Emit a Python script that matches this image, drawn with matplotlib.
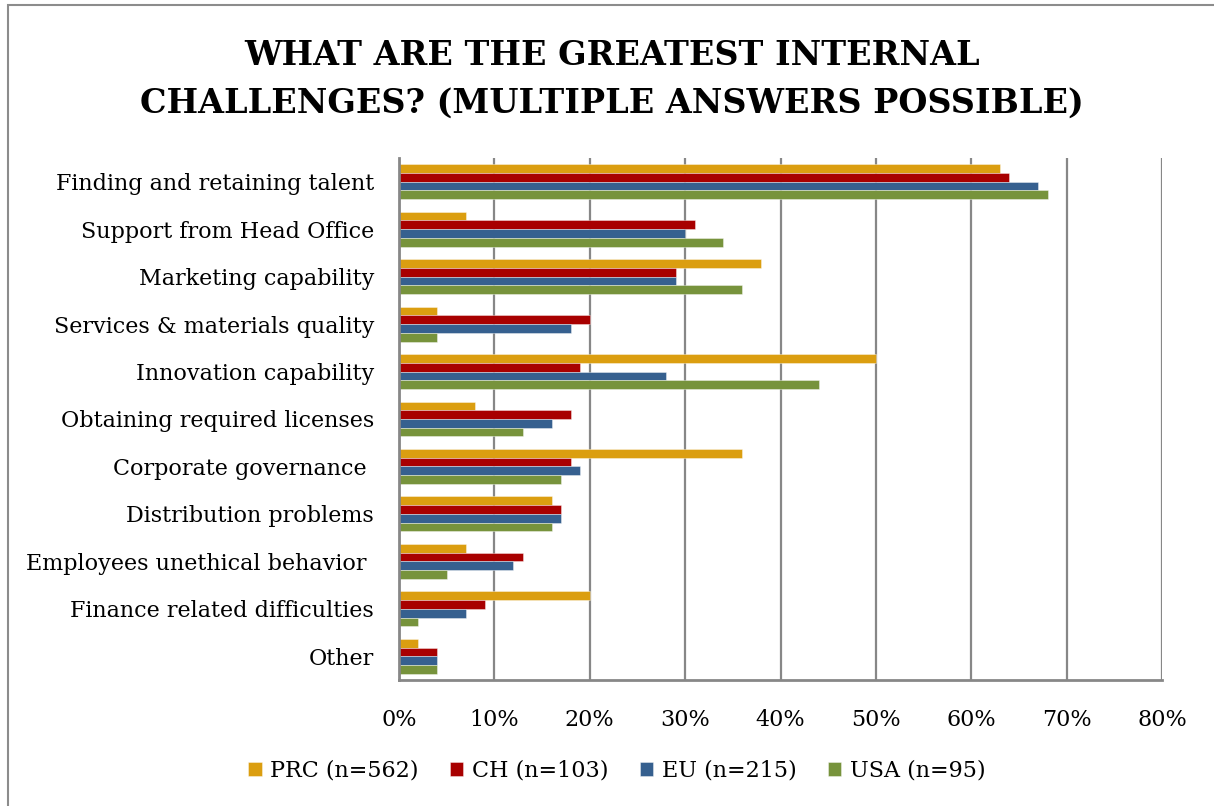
import matplotlib
matplotlib.use("Agg")
import matplotlib.pyplot as plt
from matplotlib.patches import Rectangle
import numpy as np

categories = [
    "Finding and retaining talent",
    "Support from Head Office",
    "Marketing capability",
    "Services & materials quality",
    "Innovation capability",
    "Obtaining required licenses",
    "Corporate governance ",
    "Distribution problems",
    "Employees unethical behavior ",
    "Finance related difficulties",
    "Other",
]
series_names = ["PRC (n=562)", "CH (n=103)", "EU (n=215)", "USA (n=95)"]
prc = [63, 7, 38, 4, 50, 8, 36, 16, 7, 20, 2]
ch = [64, 31, 29, 20, 19, 18, 18, 17, 13, 9, 4]
eu = [67, 30, 29, 18, 28, 16, 19, 17, 12, 7, 4]
usa = [68, 34, 36, 4, 44, 13, 17, 16, 5, 2, 4]
xticks = [0, 10, 20, 30, 40, 50, 60, 70, 80]
title_lines = ["WHAT ARE THE GREATEST INTERNAL", "CHALLENGES? (MULTIPLE ANSWERS POSSIBLE)"]

colors = ["#DB9E10", "#A80000", "#36608F", "#77933C"]
W, H = 1214, 806
DPI = 100
FONT = "DejaVu Serif"

fig = plt.figure(figsize=(W / DPI, H / DPI), dpi=DPI)
fig.patch.set_facecolor("white")

# outer frame
fig.patches.append(Rectangle((8 / W, -0.2), 2.0, 1.2 - 5 / H, transform=fig.transFigure,
                             fill=False, edgecolor="#8C8C8C", linewidth=1.5, clip_on=False))

ax = fig.add_axes([399 / W, 1 - 680 / H, (1162 - 399) / W, (680 - 158) / H])

n = len(categories)
y = np.arange(n)
bh = 0.184
all_series = [prc, ch, eu, usa]
for i, (vals, c, name) in enumerate(zip(all_series, colors, series_names)):
    offs = (i - 1.5) * bh
    ax.barh(y + offs, vals, height=bh, color=c, label=name,
            edgecolor=(1, 1, 1, 0.45), linewidth=0.6)

ax.set_ylim(n - 0.5, -0.5)
ax.set_xlim(0, 80)
ax.set_xticks(xticks)
ax.set_xticklabels([f"{t}%" for t in xticks])
ax.set_yticks(y)
ax.set_yticklabels(categories)
ax.grid(axis="x", color="#878787", linewidth=1.6)
ax.set_axisbelow(True)
for s in ["top", "right"]:
    ax.spines[s].set_visible(False)
for s in ["left", "bottom"]:
    ax.spines[s].set_color("#878787")
    ax.spines[s].set_linewidth(2.0)
ax.tick_params(axis="both", length=0)
ax.tick_params(axis="y", pad=18)
ax.tick_params(axis="x", pad=21)

lab_fs = 16
for t in ax.get_yticklabels() + ax.get_xticklabels():
    t.set_fontfamily(FONT)
    t.set_fontsize(lab_fs)
    t.set_color("black")

fig.text(612 / W, 1 - 65 / H, title_lines[0], ha="center", va="baseline",
         fontsize=24, fontweight="bold", family=FONT)
fig.text(612 / W, 1 - 113 / H, title_lines[1], ha="center", va="baseline",
         fontsize=24, fontweight="bold", family=FONT)

leg = fig.legend(loc="center", bbox_to_anchor=(617 / W, 1 - 771 / H), ncol=4, frameon=False,
                 prop={"family": FONT, "size": lab_fs}, handlelength=0.6, handleheight=0.6,
                 handletextpad=0.4, columnspacing=1.4)

fig.savefig("out.png", dpi=DPI, facecolor="white")
